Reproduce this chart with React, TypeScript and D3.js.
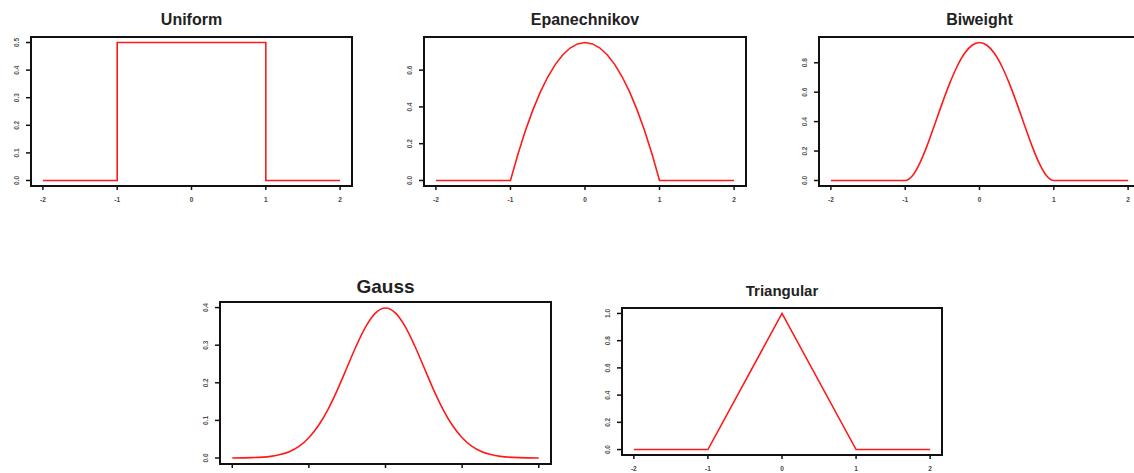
import React from "react";
import * as d3 from "d3";

// ---- Data ----
const titles = ["Uniform", "Epanechnikov", "Biweight", "Gauss", "Triangular"];

const uniformX = [-2, -1, 1, 2];
const uniformY = [0, 0.5, 0, 0];

const epanX = [-2, -1, -0.9, -0.8, -0.7, -0.6, -0.5, -0.4, -0.3, -0.2, -0.1, 0, 0.1, 0.2, 0.3, 0.4, 0.5, 0.6, 0.7, 0.8, 0.9, 1, 2];
const epanY = [0, 0, 0.1425, 0.27, 0.3825, 0.48, 0.5625, 0.63, 0.6825, 0.72, 0.7425, 0.75, 0.7425, 0.72, 0.6825, 0.63, 0.5625, 0.48, 0.3825, 0.27, 0.1425, 0, 0];

const biweightX = [-2, -1, -0.9, -0.8, -0.7, -0.6, -0.5, -0.4, -0.3, -0.2, -0.1, 0, 0.1, 0.2, 0.3, 0.4, 0.5, 0.6, 0.7, 0.8, 0.9, 1, 2];
const biweightY = [0, 0, 0.0338, 0.1215, 0.2438, 0.384, 0.5273, 0.6615, 0.7763, 0.864, 0.9188, 0.9375, 0.9188, 0.864, 0.7763, 0.6615, 0.5273, 0.384, 0.2438, 0.1215, 0.0338, 0, 0];

const gaussX = [-4, -3.5, -3, -2.75, -2.5, -2.25, -2, -1.75, -1.5, -1.25, -1, -0.75, -0.5, -0.25, 0, 0.25, 0.5, 0.75, 1, 1.25, 1.5, 1.75, 2, 2.25, 2.5, 2.75, 3, 3.5, 4];
const gaussY = [0.0001, 0.0009, 0.0044, 0.0091, 0.0175, 0.0317, 0.054, 0.0863, 0.1295, 0.1826, 0.242, 0.3011, 0.3521, 0.3867, 0.3989, 0.3867, 0.3521, 0.3011, 0.242, 0.1826, 0.1295, 0.0863, 0.054, 0.0317, 0.0175, 0.0091, 0.0044, 0.0009, 0.0001];

const triX = [-2, -1, 0, 1, 2];
const triY = [0, 0, 1, 0, 0];

const xTicksStd = [-2, -1, 0, 1, 2];
const xTicksGauss = [-4, -2, 0, 2, 4];
const yTicksUniform = [0, 0.1, 0.2, 0.3, 0.4, 0.5];
const yTicksEpan = [0, 0.2, 0.4, 0.6];
const yTicksBiweight = [0, 0.2, 0.4, 0.6, 0.8];
const yTicksGauss = [0, 0.1, 0.2, 0.3, 0.4];
const yTicksTri = [0, 0.2, 0.4, 0.6, 0.8, 1.0];

// ---- Layout ----
type Panel = {
  title: string;
  xs: number[];
  ys: number[];
  xTicks: number[];
  yTicks: number[];
  showXLabels: boolean;
  box: [number, number, number, number]; // left, top, right, bottom
  titleY: number;
  titleSize: number;
  curve: d3.CurveFactory;
};

function ext(lo: number, hi: number): [number, number] {
  const d = (hi - lo) * 0.04;
  return [lo - d, hi + d];
}

const panels: Panel[] = [
  { title: titles[0], xs: uniformX, ys: uniformY, xTicks: xTicksStd, yTicks: yTicksUniform, showXLabels: true, box: [31, 37, 352, 186], titleY: 25, titleSize: 16, curve: d3.curveStepAfter },
  { title: titles[1], xs: epanX, ys: epanY, xTicks: xTicksStd, yTicks: yTicksEpan, showXLabels: true, box: [424, 37, 746, 186], titleY: 25, titleSize: 16, curve: d3.curveLinear },
  { title: titles[2], xs: biweightX, ys: biweightY, xTicks: xTicksStd, yTicks: yTicksBiweight, showXLabels: true, box: [819, 37, 1140, 186], titleY: 25, titleSize: 16, curve: d3.curveMonotoneX },
  { title: titles[3], xs: gaussX, ys: gaussY, xTicks: xTicksGauss, yTicks: yTicksGauss, showXLabels: false, box: [220, 302, 551, 464], titleY: 293, titleSize: 19, curve: d3.curveMonotoneX },
  { title: titles[4], xs: triX, ys: triY, xTicks: xTicksStd, yTicks: yTicksTri, showXLabels: true, box: [622, 308, 942, 455], titleY: 296, titleSize: 15, curve: d3.curveLinear },
];

function fmt(v: number) {
  return v.toFixed(1);
}
function fmtX(v: number) {
  return String(v);
}

function PanelView({ p }: { p: Panel }) {
  const [l, t, r, b] = p.box;
  const xDom = ext(d3.min(p.xs)!, d3.max(p.xs)!);
  const yDom = ext(0, d3.max(p.ys)!);
  const x = d3.scaleLinear().domain(xDom).range([l, r]);
  const y = d3.scaleLinear().domain(yDom).range([b, t]);
  const pts: [number, number][] = p.xs.map((xv, i) => [xv, p.ys[i]]);
  const line = d3
    .line<[number, number]>()
    .x((d) => x(d[0]))
    .y((d) => y(d[1]))
    .curve(p.curve);
  const titleX = x((xDom[0] + xDom[1]) / 2);
  return (
    <g>
      <text
        x={titleX}
        y={p.titleY}
        textAnchor="middle"
        fontFamily="Liberation Sans, Arial, sans-serif"
        fontWeight="bold"
        fontSize={p.titleSize}
        fill="#222"
      >
        {p.title}
      </text>
      <path d={line(pts) || ""} fill="none" stroke="#ff1a1a" strokeWidth={1.6} />
      <rect x={l} y={t} width={r - l} height={b - t} fill="none" stroke="#111" strokeWidth={2} />
      {p.xTicks.map((v) => (
        <g key={"x" + v}>
          <line x1={x(v)} x2={x(v)} y1={b} y2={b + 4} stroke="#111" strokeWidth={1.5} />
          {p.showXLabels ? (
            <text
              x={x(v)}
              y={b + 16}
              textAnchor="middle"
              fontFamily="Liberation Sans, Arial, sans-serif"
              fontWeight="bold"
              fontSize={6.5}
              fill="#444"
            >
              {fmtX(v)}
            </text>
          ) : null}
        </g>
      ))}
      {p.yTicks.map((v) => (
        <g key={"y" + v}>
          <line x1={l - 5} x2={l} y1={y(v)} y2={y(v)} stroke="#111" strokeWidth={1.5} />
          <text
            transform={`translate(${l - 14},${y(v)}) rotate(-90)`}
            textAnchor="middle"
            dy="0.35em"
            fontFamily="Liberation Sans, Arial, sans-serif"
            fontWeight="bold"
            fontSize={6.5}
            fill="#555"
          >
            {fmt(v)}
          </text>
        </g>
      ))}
    </g>
  );
}

export default function App() {
  return (
    <svg
      width={1134}
      height={473}
      style={{ position: "absolute", left: 0, top: 0, background: "#fff" }}
    >
      <rect x={0} y={0} width={1134} height={473} fill="#fff" />
      {panels.map((p) => (
        <PanelView key={p.title} p={p} />
      ))}
    </svg>
  );
}
